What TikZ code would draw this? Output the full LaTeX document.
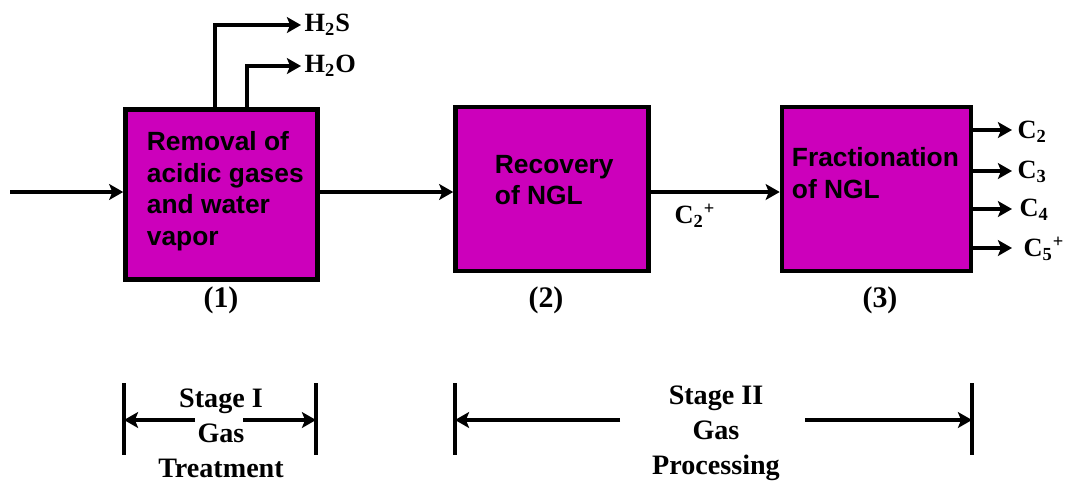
\documentclass[tikz,border=0pt]{standalone}
\usepackage{fontspec}
\setmainfont{Liberation Serif}
\newfontfamily\boxfont{Liberation Sans}
\usetikzlibrary{calc,arrows.meta}
\definecolor{unitmag}{RGB}{204,0,187}

\begin{document}
\begin{tikzpicture}[>={Stealth[length=8pt,width=9pt,inset=1.8pt]}, x=0.02cm, y=-0.02cm, line width=2.2pt,
    unit/.style={draw, line width=2.6pt, fill=unitmag, inner sep=0pt},
    unittext/.style={font=\boxfont\bfseries\fontsize{15}{18}\selectfont, align=left, anchor=west, inner sep=0pt},
    stream/.style={font=\bfseries\fontsize{15}{18}\selectfont, anchor=west, inner sep=1pt},
    tag/.style={font=\bfseries\fontsize{17}{20}\selectfont},
    stagetext/.style={font=\bfseries\fontsize{16}{20}\selectfont, align=center},
    bar/.style={line width=2pt}]
        \useasboundingbox (0,0) rectangle (1066,485);

        \coordinate (feed) at (10,192);
        \coordinate (s1) at (215,0);
        \coordinate (s2) at (247,0);
        \coordinate (c2) at (1012,130);
        \coordinate (c3) at (1012,171);
        \coordinate (c4) at (1012,209);
        \coordinate (c5) at (1012,248);

        \node[unit, minimum width = 3.84cm, minimum height = 3.4cm] (U1) at (221.5,194.5) {};
        \node[unit, minimum width = 3.86cm, minimum height = 3.28cm] (U2) at (552,189) {};
        \node[unit, minimum width = 3.78cm, minimum height = 3.28cm] (U3) at (876.5,189) {};

        \node[unittext] (T1) at (145,191) {Removal of\\acidic gases\\and water\\vapor};
        \node[unittext] (T2) at (493,180) {Recovery\\of NGL};
        \node[unittext] (T3) at (790,173) {Fractionation\\of NGL};

        \node[tag] (N1) at (221,300) {(1)};
        \node[tag] (N2) at (546,300) {(2)};
        \node[tag] (N3) at (880,300) {(3)};

        \node[stream] (H2S) at (301,25) {H\textsubscript{2}S};
        \node[stream] (H2O) at (301,66) {H\textsubscript{2}O};
        \node[stream] (C2plus) at (671,216) {C\textsubscript{2}\textsuperscript{+}};
        \node[stream] (C2) at (1014,132) {C\textsubscript{2}};
        \node[stream] (C3) at (1014,172) {C\textsubscript{3}};
        \node[stream] (C4) at (1016,210) {C\textsubscript{4}};
        \node[stream] (C5) at (1020,249) {C\textsubscript{5}\textsuperscript{+}};

        \path[draw,->] (feed) -- (feed -| U1.west);
        \path[draw,->] (feed -| U1.east) -- (feed -| U2.west);
        \path[draw,->] (feed -| U2.east) -- (feed -| U3.west);
        \path[draw,->] (U1.north -| s1) |- (H2S.west);
        \path[draw,->] (U1.north -| s2) |- (H2O.west);
        \path[draw,->] (c2 -| U3.east) -- (c2);
        \path[draw,->] (c3 -| U3.east) -- (c3);
        \path[draw,->] (c4 -| U3.east) -- (c4);
        \path[draw,->] (c5 -| U3.east) -- (c5);

        \coordinate (b1) at (124,383);
        \coordinate (b2) at (316,383);
        \coordinate (b3) at (455,383);
        \coordinate (b4) at (972,383);
        \draw[bar] (b1) -- ++(0,72);
        \draw[bar] (b2) -- ++(0,72);
        \draw[bar] (b3) -- ++(0,72);
        \draw[bar] (b4) -- ++(0,72);

        \node[stagetext] (St1) at (221,433) {Stage I\\Gas\\Treatment};
        \node[stagetext] (St2) at (716,433) {Stage II\\Gas\\Processing};
        \coordinate (g1) at (195,420);
        \coordinate (g2) at (243,420);
        \coordinate (g3) at (620,420);
        \coordinate (g4) at (805,420);
        \path[draw,->] (g1) -- (g1 -| b1);
        \path[draw,->] (g2) -- (g2 -| b2);
        \path[draw,->] (g3) -- (g3 -| b3);
        \path[draw,->] (g4) -- (g4 -| b4);
    \end{tikzpicture}
\end{document}
